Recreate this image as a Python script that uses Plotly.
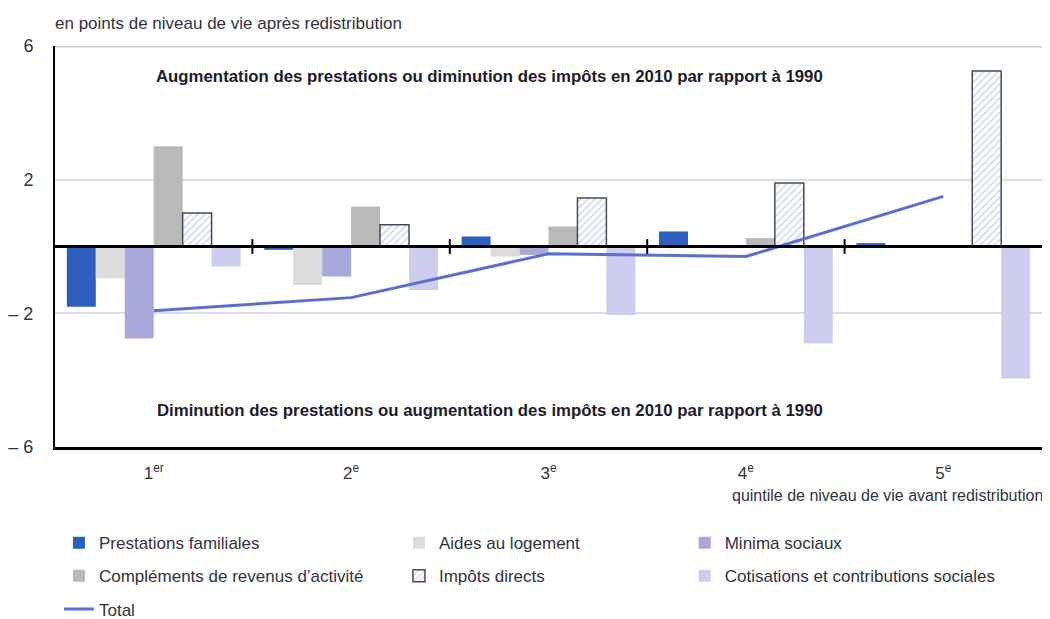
import plotly.graph_objects as go

# quintiles de niveau de vie avant redistribution
quintiles = ["1<sup>er</sup>", "2<sup>e</sup>", "3<sup>e</sup>", "4<sup>e</sup>", "5<sup>e</sup>"]

# contributions, en points de niveau de vie apres redistribution
prestations_familiales = [-1.8, -0.1, 0.3, 0.45, 0.1]
aides_logement = [-0.95, -1.15, -0.3, -0.05, 0.0]
minima_sociaux = [-2.75, -0.9, -0.25, -0.05, 0.0]
complements_revenus = [3.0, 1.2, 0.6, 0.25, 0.0]
impots_directs = [1.0, 0.65, 1.45, 1.9, 5.25]
cotisations = [-0.6, -1.3, -2.05, -2.9, -3.95]
total = [-1.92, -1.53, -0.22, -0.3, 1.5]

y_ticks = [6, 2, -2, -6]
y_ticktext = ["6", "2", "\u2013 2", "\u2013 6"]

FONT = "Liberation Sans, Arial, sans-serif"
TEXT = "#333340"

fig = go.Figure()

bars = [
    ("Prestations familiales", prestations_familiales, "#2f5fbd", "legend", 1),
    ("Aides au logement", aides_logement, "#dcdcdc", "legend2", 1),
    ("Minima sociaux", minima_sociaux, "#a7a9da", "legend3", 1),
    ("Compléments de revenus d\u2019activité", complements_revenus, "#b9b9b9", "legend", 2),
    ("Impôts directs", impots_directs, "#ffffff", "legend2", 2),
    ("Cotisations et contributions sociales", cotisations, "#cdcdef", "legend3", 2),
]

for name, vals, color, leg, rank in bars:
    marker = dict(color=color, line=dict(width=0))
    if name == "Impôts directs":
        marker = dict(
            color="#ffffff",
            line=dict(color="#4a4a55", width=1.5),
            pattern=dict(shape="/", fgcolor="#93ace6", bgcolor="#ffffff", size=5, solidity=0.3),
        )
    fig.add_trace(
        go.Bar(
            x=quintiles,
            y=vals,
            name=name,
            marker=marker,
            legend=leg,
            legendrank=rank,
            legendgroup=name,
        )
    )

fig.add_trace(
    go.Scatter(
        x=quintiles,
        y=total,
        mode="lines",
        name="Total",
        line=dict(color="#5b6fd2", width=3),
        legend="legend",
        legendrank=3,
        legendgroup="Total",
    )
)

# tirets de separation sur la ligne du zero
for b in [0.5, 1.5, 2.5, 3.5]:
    fig.add_shape(type="line", x0=b, x1=b, y0=-0.22, y1=0.22, xref="x", yref="y",
                  line=dict(color="black", width=2))
# ligne du zero
fig.add_shape(type="line", x0=0, x1=1, xref="paper", y0=0, y1=0, yref="y",
              line=dict(color="black", width=3))
# bord superieur
fig.add_shape(type="line", x0=0, x1=1, xref="paper", y0=6, y1=6, yref="y",
              line=dict(color="#cfcfd8", width=3))

legend_common = dict(
    orientation="v",
    font=dict(family=FONT, size=17, color=TEXT),
    bgcolor="rgba(0,0,0,0)",
    yanchor="top",
    xanchor="left",
    y=-0.195,
    tracegroupgap=8,
    traceorder="grouped",
)

# the page body adds an 8px offset: the figure is laid out 8px up/left and
# made taller than the window so the legends never push the margins
fig.update_layout(
    width=1050,
    height=660,
    margin=dict(l=47, r=16, t=38, b=221),
    plot_bgcolor="white",
    paper_bgcolor="white",
    font=dict(family=FONT, size=16, color=TEXT),
    barmode="group",
    bargap=0.12,
    bargroupgap=0,
    showlegend=True,
    legend=dict(x=0.004, **legend_common),
    legend2=dict(x=0.3485, **legend_common),
    legend3=dict(x=0.638, **legend_common),
    xaxis=dict(
        automargin=False,
        showgrid=False,
        showline=True,
        linecolor="black",
        linewidth=3,
        ticks="",
        tickfont=dict(family=FONT, size=17, color=TEXT),
        ticklabelstandoff=9,
        zeroline=False,
    ),
    yaxis=dict(
        automargin=False,
        range=[-6, 6],
        tickvals=y_ticks,
        ticktext=y_ticktext,
        showgrid=True,
        gridcolor="#dcdcef",
        gridwidth=1.5,
        showline=True,
        linecolor="black",
        linewidth=2,
        zeroline=False,
        ticks="",
        ticklabelstandoff=16,
        tickfont=dict(family=FONT, size=18, color=TEXT),
    ),
    annotations=[
        dict(text="en points de niveau de vie après redistribution", xref="paper", yref="paper",
             x=-0.002, y=1.055, xanchor="left", yanchor="middle", showarrow=False,
             font=dict(family=FONT, size=17, color=TEXT)),
        dict(text="quintile de niveau de vie avant redistribution", xref="paper", yref="paper",
             x=1.003, y=-0.12, xanchor="right", yanchor="middle", showarrow=False,
             font=dict(family=FONT, size=16, color=TEXT)),
        dict(text="<b>Augmentation des prestations ou diminution des impôts en 2010 par rapport à 1990</b>",
             xref="paper", yref="y", x=0.4407, y=5.1, xanchor="center", yanchor="middle",
             showarrow=False, font=dict(family=FONT, size=16.8, color="#1c1c2c")),
        dict(text="<b>Diminution des prestations ou augmentation des impôts en 2010 par rapport à 1990</b>",
             xref="paper", yref="y", x=0.4407, y=-4.92, xanchor="center", yanchor="middle",
             showarrow=False, font=dict(family=FONT, size=16.8, color="#1c1c2c")),
    ],
)

fig.write_html("out.html")
